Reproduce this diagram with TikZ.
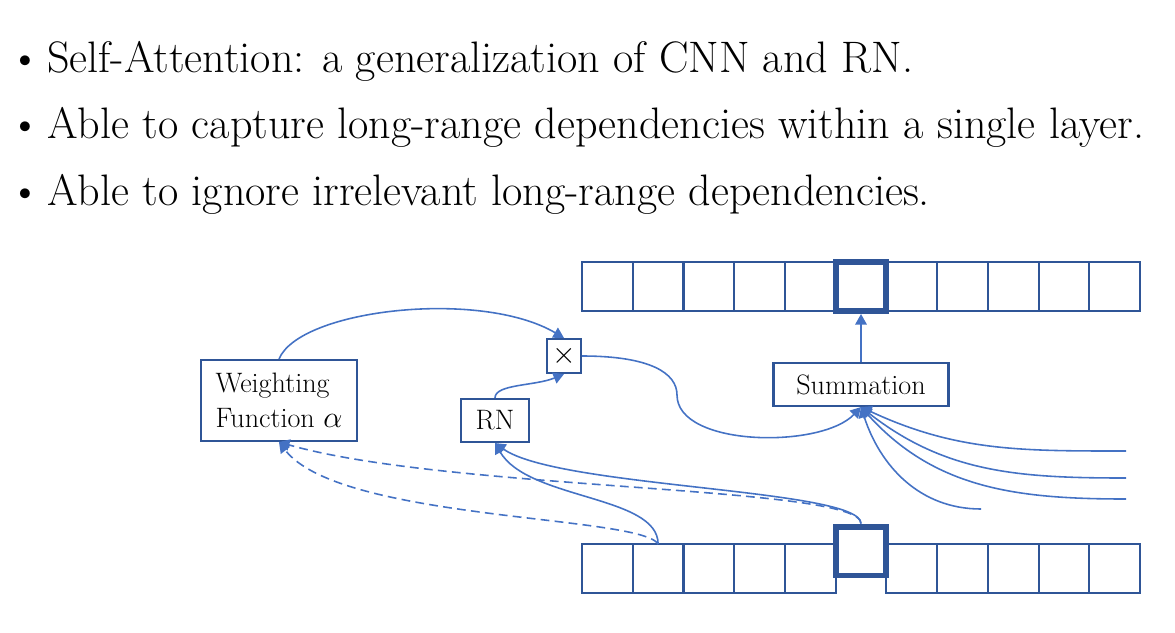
\documentclass[tikz,border=0pt]{standalone}
\usepackage{fontspec}
\usetikzlibrary{arrows.meta}
\definecolor{boxblue}{RGB}{47,85,151}
\definecolor{linkblue}{RGB}{68,114,196}
\tikzstyle{cell}=[draw=boxblue,line width=1.2pt,minimum width=1.0146cm,minimum height=0.98cm,inner sep=0pt,outer sep=0pt]
\tikzstyle{focus cell}=[cell,line width=3.4pt,outer sep=1.7pt]
\tikzstyle{block}=[draw=boxblue,line width=1.2pt,inner sep=0pt,font=\fontsize{16}{20}\selectfont]
\tikzstyle{link}=[draw,line width=0.9pt,linkblue,-{Triangle[length=6pt,width=6.5pt]}]
\tikzstyle{weight link}=[link,dash pattern=on 5pt off 3pt]
\tikzstyle{bullet}=[anchor=base west,inner sep=0pt,font=\fontsize{25.1}{30}\selectfont]

\begin{document}
\begin{tikzpicture}[x=0.02cm,y=-0.02cm]
    \useasboundingbox (0,0) rectangle (1175,632);
    % The three bullet lines
    \foreach \ypos/\words in {72.7/{Self-Attention: a generalization of CNN and RN.},
        138/{Able to capture long-range dependencies within a single layer.},
        205/{Able to ignore irrelevant long-range dependencies.}}
    {
    \node[bullet,anchor=base] at (25,\ypos) {\textbullet};
    \node[bullet] at (47,\ypos) {\words};
    }
    % Output and input sequences
    \foreach \i in {1,2,3,4,5,7,8,9,10,11}
    {
    \node[cell] (top\i) at ({582+50.73*(\i-0.5)},286.5) {};
    \node[cell] (bot\i) at ({582+50.73*(\i-0.5)},568.5) {};
    }
    \node[focus cell] (topkey) at (861,286.5) {};
    \node[focus cell] (botkey) at (861,551) {};
    % The operation boxes
    \node[block,minimum width=3.5cm,minimum height=0.86cm] (sum) at (861,384.5) {Summation};
    \node[block,minimum size=0.68cm] (times) at (564,356) {$\times$};
    \node[block,minimum width=1.36cm,minimum height=0.86cm] (rn) at (495,420.5) {RN};
    \node[block,minimum width=3.12cm,minimum height=1.62cm,align=left] (wf) at (279,400.5) {Weighting\\Function $\alpha$};
    \coordinate (dip) at (677,395);
    \foreach \name/\xpos/\ypos in {far1/1126/451,far2/1126/478,far3/1126/499,far4/981/509}
    \coordinate (\name) at (\xpos,\ypos);
    % Connections
    \path[link] (sum) -- (topkey);
    \path[link] (wf.north) .. controls +(21,-50) and +(-83,-49) .. (times.north);
    \path[link] (rn.north) .. controls +(0,-14) and +(-29,12) .. (times.south);
    \path[link] (times.east) .. controls +(68,0) and +(0,-22) .. (dip) .. controls +(0,52) and +(-40,42) .. (sum.south);
    \foreach \source/\angle in {far1/-25,far2/-38,far3/-48,far4/-72}
    \path[link] (\source) to[out=180,in=\angle] (sum.south);
    \path[link] (botkey.north) .. controls +(0,-35) and +(63,45) .. (rn.south);
    \path[link] (bot2.north) .. controls +(0,-49) and +(33,57) .. (rn.south);
    \path[weight link] (botkey.north) .. controls +(0,-38) and +(171,49) .. (wf.south);
    \path[weight link] (bot2.north) .. controls +(-18,-29) and +(61,79) .. (wf.south);
\end{tikzpicture}
\end{document}
